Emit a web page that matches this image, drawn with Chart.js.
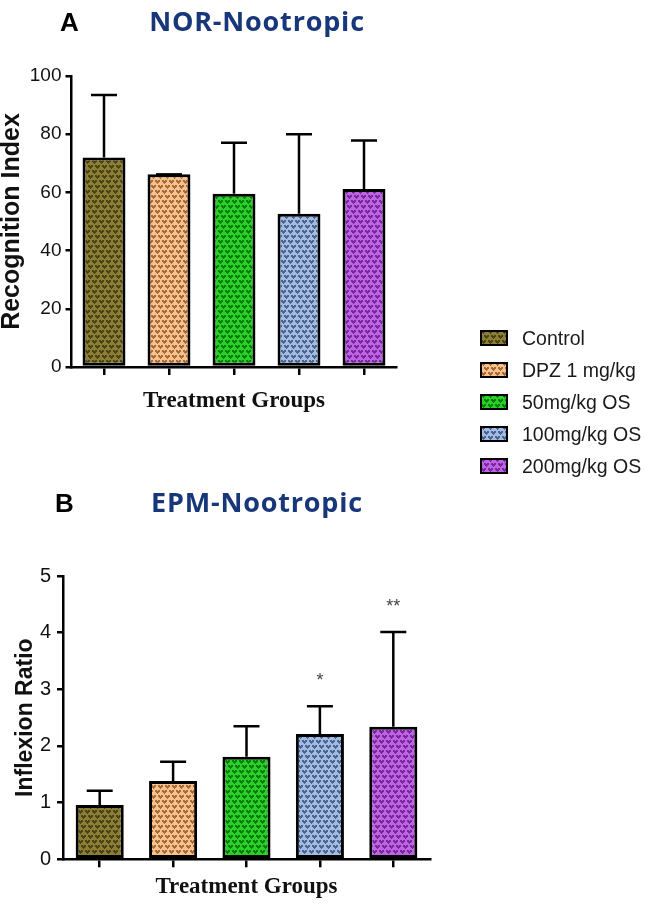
<!DOCTYPE html>
<html>
<head>
<meta charset="utf-8">
<script src="https://cdn.jsdelivr.net/npm/chart.js@4/dist/chart.umd.min.js"></script>
<style>
  body { margin: 0; background: #fff; width: 646px; height: 908px; position: relative; overflow: hidden;
         font-family: "Liberation Sans", Arial, sans-serif; }
  #wrapA { position: absolute; left: 0; top: 0; }
  #wrapB { position: absolute; left: 0; top: 480px; }
  #legend { position: absolute; left: 480px; top: 322px; }
  .row { display: flex; align-items: center; height: 32px; }
  .row canvas { display: block; }
  .row span { margin-left: 14px; font-size: 19.5px; color: #1a1a1a; }
</style>
</head>
<body>
<div id="wrapA"><canvas id="chartA" width="420" height="430"></canvas></div>
<div id="wrapB"><canvas id="chartB" width="440" height="428"></canvas></div>
<div id="legend"></div>

<script>
// groups + colours
const groups = ['Control', 'DPZ 1 mg/kg', '50mg/kg OS', '100mg/kg OS', '200mg/kg OS'];
const fillColors = ['#8a7f34', '#f6c28c', '#2acf2a', '#a1bce2', '#bd63e4'];
const markColors = ['#4c4218', '#a86a3c', '#0a7d0a', '#4e648e', '#77299a'];

// A: NOR - recognition index (mean, upper SD)
const norMeans = [72, 66.2, 59.5, 52.7, 61.2];
const norSD = [21.5, 0, 17.6, 27.3, 16.6];

// B: EPM - inflexion ratio
const epmMeans = [0.96, 1.38, 1.81, 2.21, 2.34];
const epmSD = [0.25, 0.34, 0.54, 0.49, 1.67];
const epmStars = ['', '', '', '*', '**'];

// small "scale" texture like the GraphPad fill
function makePattern(base, mark) {
  const c = document.createElement('canvas');
  c.width = 7; c.height = 10;
  const g = c.getContext('2d');
  g.fillStyle = base;
  g.fillRect(0, 0, 7, 10);
  g.fillStyle = mark;
  const heart = (x, y) => {
    [0, -7, 7].forEach(dx => {
      g.fillRect(x + dx, y, 2, 1);
      g.fillRect(x + dx + 3, y, 2, 1);
      g.fillRect(x + dx, y + 1, 5, 1);
      g.fillRect(x + dx + 1, y + 2, 3, 1);
      g.fillRect(x + dx + 2, y + 3, 1, 1);
    });
  };
  heart(1, 0);
  heart(4, 5);
  return g.createPattern(c, 'repeat');
}

const ctxA = document.getElementById('chartA').getContext('2d');
const patterns = fillColors.map((c, i) => makePattern(c, markColors[i]));

const errorBars = {
  id: 'errorBars',
  afterDatasetsDraw(chart, args, opts) {
    const { ctx } = chart;
    const y = chart.scales.y;
    const meta = chart.getDatasetMeta(0);
    ctx.save();
    ctx.strokeStyle = '#000';
    ctx.lineWidth = 2.5;
    opts.sd.forEach((s, i) => {
      const bar = meta.data[i];
      const base = y.getPixelForValue(opts.means[i]);
      const top = y.getPixelForValue(opts.means[i] + s);
      ctx.beginPath();
      ctx.moveTo(bar.x, base);
      ctx.lineTo(bar.x, top);
      ctx.moveTo(bar.x - opts.cap / 2, top);
      ctx.lineTo(bar.x + opts.cap / 2, top);
      ctx.stroke();
      if (opts.stars && opts.stars[i]) {
        ctx.fillStyle = '#444';
        ctx.font = '18px "Liberation Sans", Arial';
        ctx.textAlign = 'center';
        ctx.textBaseline = 'alphabetic';
        ctx.fillText(opts.stars[i], bar.x, top - 20);
      }
    });
    ctx.restore();
  }
};

const panelTitle = {
  id: 'panelTitle',
  afterDraw(chart, args, o) {
    const ctx = chart.ctx;
    ctx.save();
    ctx.textBaseline = 'alphabetic';
    ctx.font = 'bold 26px "Liberation Sans", Arial';
    ctx.fillStyle = '#000';
    ctx.textAlign = 'left';
    ctx.fillText(o.letter, o.letterX, o.baseY);
    ctx.font = 'bold 27px "Open Sans"';
    ctx.letterSpacing = '0.8px';
    ctx.fillStyle = '#17377a';
    ctx.textAlign = 'center';
    ctx.fillText(o.text, o.textX, o.baseY);
    ctx.restore();
  }
};

function barOptions(cfg) {
  return {
    responsive: false,
    animation: false,
    layout: { padding: cfg.padding },
    plugins: {
      legend: { display: false },
      tooltip: { enabled: false },
      errorBars: { means: cfg.means, sd: cfg.sd, cap: 26, stars: cfg.stars },
      panelTitle: cfg.title
    },
    scales: {
      x: {
        grid: { display: true, drawOnChartArea: false, drawTicks: true, tickLength: 8, offset: false, color: '#000', lineWidth: 2.5 },
        border: { display: true, color: '#000', width: 2.5 },
        ticks: { display: false },
        title: { display: true, text: 'Treatment Groups', color: '#111',
                 font: { family: '"Liberation Serif", serif', weight: 'bold', size: 23 },
                 padding: { top: 0, bottom: cfg.xTitlePad } },
        afterFit(scale) { scale.height = cfg.xHeight; }
      },
      y: {
        min: 0, max: cfg.max,
        ticks: { stepSize: cfg.step, color: '#111', padding: cfg.tickPad,
                 font: { family: '"Liberation Sans", Arial', size: cfg.tickSize } },
        grid: { display: true, drawOnChartArea: false, drawTicks: true, tickLength: 6, color: '#000', lineWidth: 2.5 },
        border: { display: true, color: '#000', width: 2.5 },
        title: { display: true, text: cfg.yTitle, color: '#111',
                 font: { family: '"Liberation Sans", Arial', weight: 'bold', size: cfg.yTitleSize, lineHeight: 1 },
                 padding: { top: cfg.yTitlePad, bottom: 0 } },
        afterFit(scale) { scale.width = cfg.yWidth; }
      }
    }
  };
}

new Chart(ctxA, {
  type: 'bar',
  data: {
    labels: groups,
    datasets: [{ data: norMeans, backgroundColor: patterns, borderColor: '#000', borderWidth: 3,
                 borderSkipped: false, barPercentage: 0.66, categoryPercentage: 1 }]
  },
  options: barOptions({
    padding: { top: 76, right: 23.5, left: 0, bottom: 0 },
    means: norMeans, sd: norSD, stars: null,
    title: { letter: 'A', letterX: 60, text: 'NOR-Nootropic', textX: 257, baseY: 31 },
    xHeight: 63, xTitlePad: 15, yWidth: 71.5, max: 100, step: 20, tickPad: 4, tickSize: 19,
    yTitle: 'Recognition Index', yTitleSize: 25, yTitlePad: 0
  }),
  plugins: [errorBars, panelTitle]
});

const ctxB = document.getElementById('chartB').getContext('2d');
new Chart(ctxB, {
  type: 'bar',
  data: {
    labels: groups,
    datasets: [{ data: epmMeans, backgroundColor: patterns, borderColor: '#000', borderWidth: 3,
                 borderSkipped: false, barPercentage: 0.655, categoryPercentage: 1 }]
  },
  options: barOptions({
    padding: { top: 96, right: 10, left: 0, bottom: 0 },
    means: epmMeans, sd: epmSD, stars: epmStars,
    title: { letter: 'B', letterX: 55, text: 'EPM-Nootropic', textX: 257, baseY: 32 },
    xHeight: 48.7, xTitlePad: 7, yWidth: 63, max: 5, step: 1, tickPad: 6, tickSize: 20,
    yTitle: 'Inflexion Ratio', yTitleSize: 23, yTitlePad: 14
  }),
  plugins: [errorBars, panelTitle]
});

// html legend, shared by both panels
const legendEl = document.getElementById('legend');
groups.forEach((name, i) => {
  const row = document.createElement('div');
  row.className = 'row';
  const sw = document.createElement('canvas');
  sw.width = 28; sw.height = 16;
  const g = sw.getContext('2d');
  g.fillStyle = makePattern(fillColors[i], markColors[i]);
  g.fillRect(0, 0, 28, 16);
  g.strokeStyle = '#000';
  g.lineWidth = 2;
  g.strokeRect(1, 1, 26, 14);
  const label = document.createElement('span');
  label.textContent = name;
  row.appendChild(sw);
  row.appendChild(label);
  legendEl.appendChild(row);
});
</script>
</body>
</html>
